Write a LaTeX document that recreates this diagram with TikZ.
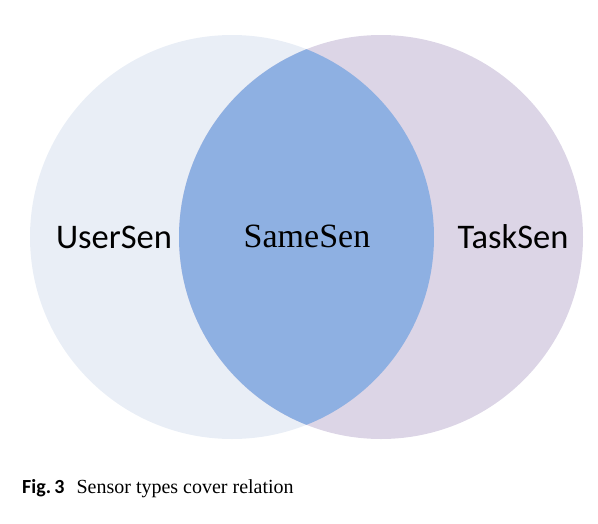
\documentclass[tikz,border=0pt]{standalone}
\usepackage{fontspec}
\setmainfont{Liberation Serif}
\newfontfamily\labelfont{Carlito}
\usetikzlibrary{positioning}
\definecolor{usercol}{HTML}{E9EEF6}
\definecolor{taskcol}{HTML}{DCD5E6}
\definecolor{samecol}{HTML}{8EB0E2}
\begin{document}
\begin{tikzpicture}[x=1pt,y=-1pt,
  setcircle/.style={circle,minimum size=404pt,inner sep=0pt},
  setlabel/.style={font=\labelfont\fontsize{34.5}{38}\selectfont}]
  \useasboundingbox (0,0) rectangle (598,523);

  % The two sets
  \node[setcircle,fill=usercol] (user) at (232,237) {};
  \node[setcircle,fill=taskcol] (task) at (381,237) {};

  % Overlap
  \begin{scope}
    \clip (232,237) circle[radius=202pt];
    \fill[samecol] (381,237) circle[radius=202pt];
  \end{scope}

  % Labels
  \node[setlabel] (usersen) at (114,237) {UserSen};
  \node[font=\fontsize{34}{38}\selectfont] (samesen) at (307,236) {SameSen};
  \node[setlabel] (tasksen) at (513,237) {TaskSen};

  % Caption
  \node[anchor=west,inner sep=0pt,font=\fontsize{20}{24}\selectfont] (caption) at (22,489)
    {{\labelfont\bfseries Fig.\,3}\hspace{12pt}Sensor types cover relation};
\end{tikzpicture}
\end{document}
